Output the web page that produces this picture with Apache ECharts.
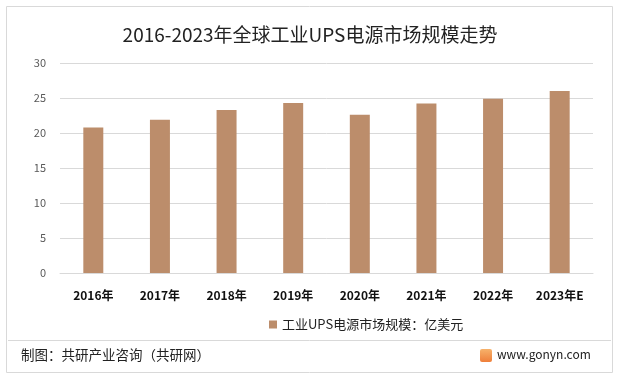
<!DOCTYPE html>
<html><head><meta charset="utf-8">
<script src="https://cdn.jsdelivr.net/npm/echarts@6/dist/echarts.min.js"></script>
<style>html,body{margin:0;padding:0;background:#fff}#c{width:620px;height:379px}</style>
</head><body><div id="c"></div>
<script>
var categories = ['2016年','2017年','2018年','2019年','2020年','2021年','2022年','2023年E'];
var values = [20.8, 21.9, 23.3, 24.3, 22.6, 24.2, 24.9, 26.0];
var seriesName = '工业UPS电源市场规模：亿美元';
var titleText = '2016-2023年全球工业UPS电源市场规模走势';
var sourceText = '制图：共研产业咨询（共研网）';
var siteText = 'www.gonyn.com';
var font = '"Noto Sans CJK SC", "Microsoft YaHei", sans-serif';
var chart = echarts.init(document.getElementById('c'));
chart.setOption({
  animation: false,
  title: {text: titleText, left: 'center', top: 20, textStyle: {fontSize: 19, fontWeight: 'normal', color: '#222', fontFamily: font}},
  grid: {left: 60, right: 27, top: 63, bottom: 106, containLabel: false},
  legend: {top: 313, left: 264, itemWidth: 8, itemHeight: 8, icon: 'rect', itemGap: 5,
    textStyle: {fontSize: 13, color: '#222', fontFamily: font}},
  xAxis: {type: 'category', data: categories,
    axisLine: {lineStyle: {color: '#d9d9d9'}}, axisTick: {show: false},
    axisLabel: {fontSize: 12, fontWeight: 'bold', color: '#111', margin: 16, fontFamily: font}},
  yAxis: {type: 'value', min: 0, max: 30, interval: 5,
    splitLine: {lineStyle: {color: '#d9d9d9'}}, axisLine: {show: false}, axisTick: {show: false},
    axisLabel: {fontSize: 11, color: '#595959', margin: 14, fontFamily: font}},
  series: [{name: seriesName, type: 'bar', data: values, barWidth: '30%', itemStyle: {color: '#bc8d6b'}}],
  graphic: [
    {type: 'rect', shape: {x: 6.5, y: 6.5, width: 606, height: 366}, style: {fill: 'none', stroke: '#d9d9d9', lineWidth: 1}, silent: true},
    {type: 'line', shape: {x1: 8, y1: 340.5, x2: 611, y2: 340.5}, style: {stroke: '#d9d9d9', lineWidth: 1}},
    {type: 'text', left: 21, top: 348, style: {text: sourceText, fontSize: 13.5, fill: '#222', fontFamily: font}},
    {type: 'rect', shape: {x: 480, y: 349, width: 12, height: 13, r: 2},
      style: {fill: {type: 'linear', x: 0, y: 0, x2: 0, y2: 1, colorStops: [{offset: 0, color: '#f6b26b'}, {offset: 1, color: '#ef7f3a'}]}}},
    {type: 'text', left: 497, top: 348, style: {text: siteText, fontSize: 12, fill: '#222', fontFamily: font}}
  ]
});
</script></body></html>
